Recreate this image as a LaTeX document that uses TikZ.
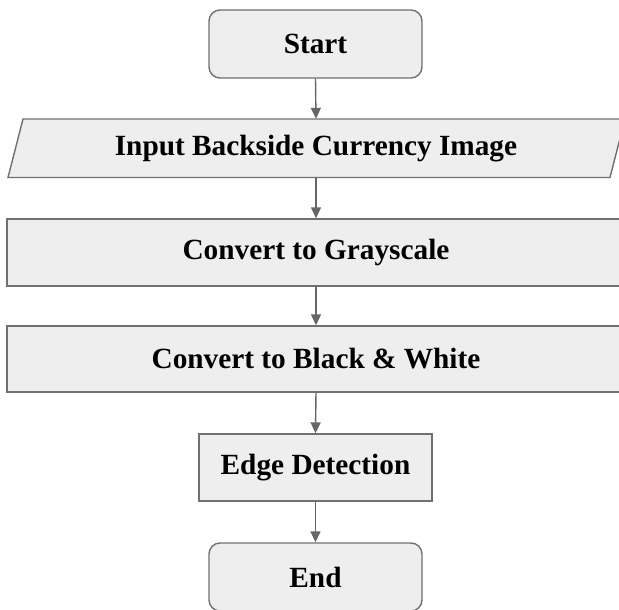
\documentclass[tikz,border=0pt]{standalone}
\usepackage{fontspec}
\setmainfont{Liberation Serif}
\usetikzlibrary{arrows.meta}
\definecolor{boxfill}{HTML}{EEEEEE}
\definecolor{boxline}{HTML}{707070}
\definecolor{arrowc}{HTML}{666666}
\tikzset{
  base/.style={draw=boxline, fill=boxfill, line width=1.4pt, inner sep=0pt,
    font=\fontsize{29.3}{32}\selectfont\bfseries, text=black},
  term/.style={base, rounded corners=11pt},
  proc/.style={base},
  plain/.style={inner sep=0pt, font=\fontsize{29.3}{32}\selectfont\bfseries, text=black},
  conn/.style={draw=arrowc, line width=1.4pt, -{Triangle[length=11pt,width=10pt]}}
}
\begin{document}
\begin{tikzpicture}[x=1pt,y=-1pt]
\useasboundingbox (0,0) rectangle (619,610);
\node[term, minimum width=213pt, minimum height=68pt] (start) at (315.5,44) {Start};
\draw[draw=boxline, fill=boxfill, line width=1.4pt] (23,119) -- (625,119) -- (610,177.5) -- (8,177.5) -- cycle;
\node[plain, minimum width=580pt, minimum height=58.5pt] (input) at (316,148.25) {Input Backside Currency Image};
\node[proc, minimum width=618pt, minimum height=67pt] (gray) at (316,252.5) {Convert to Grayscale};
\node[proc, minimum width=618pt, minimum height=66pt] (bw) at (316,359) {Convert to Black \& White};
\node[proc, minimum width=233pt, minimum height=67pt] (edge) at (315.5,467.5) {Edge Detection};
\node[term, minimum width=213pt, minimum height=68pt] (end) at (315.5,577) {End};
\draw[conn] (start.south) -- (input.north);
\draw[conn] (input.south) -- (gray.north);
\draw[conn] (gray.south) -- (bw.north);
\draw[conn] (bw.south) -- (edge.north);
\draw[conn] (edge.south) -- (end.north);
\end{tikzpicture}
\end{document}
